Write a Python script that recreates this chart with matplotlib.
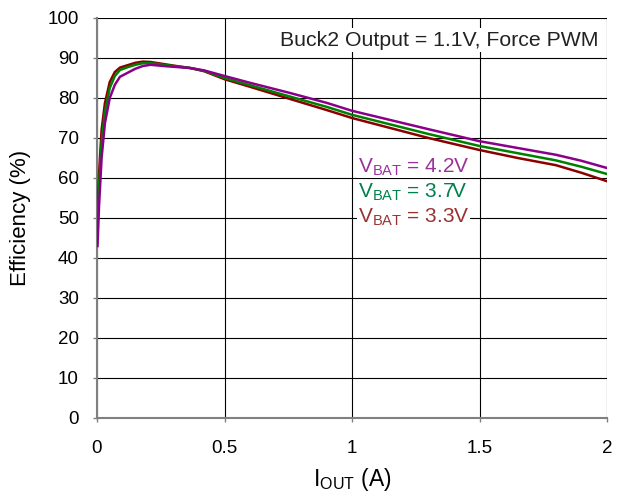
import matplotlib.pyplot as plt

plt.rcParams['font.family'] = ['Liberation Sans', 'DejaVu Sans']

# output current (A) and efficiency (%) for each battery voltage
iout = [0.002, 0.008, 0.018, 0.031, 0.05, 0.07, 0.09, 0.12, 0.15, 0.18, 0.21,
        0.26, 0.30, 0.365, 0.42, 0.5, 0.6, 0.76, 0.9, 1.0, 1.15, 1.3, 1.5,
        1.65, 1.8, 1.9, 2.0]
eff_33 = [50, 61, 72, 78.7, 84, 86.5, 87.6, 88.2, 88.8, 89.1, 89.0,
          88.5, 88.1, 87.5, 86.7, 84.7, 82.8, 79.7, 77.0, 75.0, 72.5, 70.0, 67.0,
          65.0, 63.2, 61.3, 59.2]
eff_37 = [48, 58, 69, 76.5, 82.5, 85.5, 87.0, 87.7, 88.3, 88.7, 88.7,
          88.3, 88.0, 87.5, 86.8, 85.0, 83.2, 80.3, 77.8, 75.8, 73.4, 71.0, 68.0,
          66.2, 64.4, 62.8, 61.0]
eff_42 = [43, 53, 65, 73.7, 80, 83.3, 85.3, 86.3, 87.3, 88.0, 88.3,
          88.0, 87.8, 87.5, 86.9, 85.5, 83.8, 81.2, 78.8, 76.8, 74.5, 72.2, 69.2,
          67.5, 65.8, 64.3, 62.5]

labels = ['$\\mathregular{V_{BAT}}$ = 4.2V', '$\\mathregular{V_{BAT}}$ = 3.7V',
          '$\\mathregular{V_{BAT}}$ = 3.3V']
label_y = [62.7, 56.5, 50.2]
text_colors = ['#993399', '#00804b', '#993333']

fig = plt.figure(figsize=(6.29, 4.93), dpi=100)
ax = fig.add_axes([97/629, 75/493, 510/629, 400/493])

ax.plot(iout, eff_33, color='#8b0000', lw=1.8, zorder=3)
ax.plot(iout, eff_37, color='#008000', lw=1.8, zorder=3)
ax.plot(iout, eff_42, color='#8b008b', lw=1.8, zorder=3)

ax.set_xlim(0, 2)
ax.set_ylim(0, 100)
ax.set_xticks([0, 0.5, 1, 1.5, 2])
ax.set_xticklabels(['0', '0.5', '1', '1.5', '2'])
ax.set_yticks(range(0, 101, 10))
ax.grid(True, color='black', lw=0.8)
ax.tick_params(labelsize=13.5, length=3, color='#808080', width=1)
ax.tick_params(axis='x', pad=13)
ax.tick_params(axis='y', pad=10)
for s in ['top', 'right']:
    ax.spines[s].set_visible(False)
ax.spines['left'].set_color('#808080')
ax.spines['left'].set_linewidth(1.5)
ax.spines['bottom'].set_color('#808080')
ax.spines['bottom'].set_linewidth(1.5)

ax.set_xlabel('$\\mathregular{I_{OUT}}$ (A)', fontsize=16.5)
ax.set_ylabel('Efficiency (%)', fontsize=16)
ax.xaxis.set_label_coords(0.5, -0.12)
ax.yaxis.set_label_coords(-0.13, 0.5)

ax.text(1.965, 94.5, 'Buck2 Output = 1.1V, Force PWM', fontsize=15.3, ha='right',
        va='center', color='#222222', zorder=4,
        bbox=dict(facecolor='white', edgecolor='none', pad=2))
for lab, y, c in zip(labels, label_y, text_colors):
    ax.text(1.023, y, lab, fontsize=15, color=c, ha='left', va='center', zorder=4,
            bbox=dict(facecolor='white', edgecolor='none', pad=0.5))

fig.savefig('out.png', dpi=100)
